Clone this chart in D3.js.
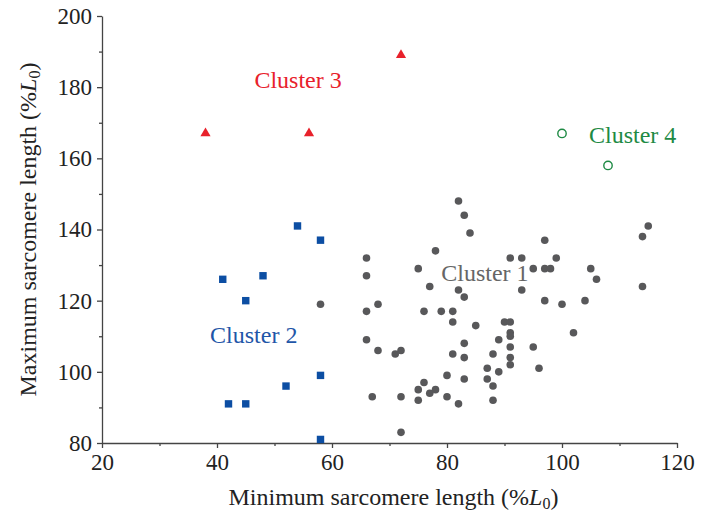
<!DOCTYPE html>
<html>
<head>
<meta charset="utf-8">
<script src="https://cdn.jsdelivr.net/npm/d3@7"></script>
<style>
	body { margin: 0; background: #fff; }
	svg { display: block; font-family: "Liberation Serif", "DejaVu Serif", serif; }
	.axis path, .axis line { stroke: #444; stroke-width: 1.3; }
	.axis text { font-family: "Liberation Serif", serif; font-size: 23px; fill: #222; }
</style>
</head>
<body>
<div id="wrapper"></div>
<script>
// cluster points, [min length, max length] in %L0
const cluster1 = [
	[82,148],[83,144],[84,139],[78,134],[66,132],[75,129],[66,127],[77,124],[82,123],[83,121],
	[58,119],[68,119],[66,117],[76,117],[79,117],[81,117],[81,114],[85,113],[66,109],[83,108],
	[89,109],[68,106],[71,105],[72,106],[81,105],[83,104],[88,105],[87,101],[89,100],[80,99],
	[83,98],[87,98],[76,97],[88,96],[75,95],[78,95],[77,94],[67,93],[72,93],[80,93],
	[75,92],[82,91],[88,92],[72,83],[115,141],[114,138],[97,137],[91,132],[93,132],[99,132],
	[95,129],[97,129],[98,129],[105,129],[106,126],[93,123],[114,124],[97,120],[100,119],[104,120],
	[90,114],[91,114],[91,111],[91,110],[102,111],[91,107],[95,107],[91,104],[91,102],[96,101]
];
const cluster2 = [[54,141],[58,137],[41,126],[48,127],[45,120],[58,99],[52,96],[42,91],[45,91],[58,81]];
const cluster3 = [[72,189],[38,167],[56,167]];
const cluster4 = [[100,167],[108,158]];

const xTicks = [20, 40, 60, 80, 100, 120];
const xMinor = [30, 50, 70, 90, 110];
const yTicks = [80, 100, 120, 140, 160, 180, 200];
const yMinor = [90, 110, 130, 150, 170, 190];

// label name, anchor value (x, y)
const labels = [
	{ text: 'Cluster 1', x: 79, y: 125.5, color: '#666666' },
	{ text: 'Cluster 2', x: 38.8, y: 108.2, color: '#1f56a8' },
	{ text: 'Cluster 3', x: 46.5, y: 179.7, color: '#e8212b' },
	{ text: 'Cluster 4', x: 104.7, y: 164.4, color: '#1e8a44' }
];

(() => {
	const width = 711, height = 516;
	const margin = { left: 102, right: 34, top: 16, bottom: 73 };

	const svg = d3.select('#wrapper').append('svg')
		.attr('width', width)
		.attr('height', height);

	const x = d3.scaleLinear().domain([20, 120]).range([margin.left, width - margin.right]);
	const y = d3.scaleLinear().domain([80, 200]).range([height - margin.bottom, margin.top]);

	// minor ticks first, then major axes on top
	svg.append('g')
		.attr('class', 'axis')
		.attr('transform', `translate(0,${y(80)})`)
		.call(d3.axisBottom(x).tickValues(xMinor).tickSize(3).tickFormat(''))
		.select('.domain').remove();
	svg.append('g')
		.attr('class', 'axis')
		.attr('transform', `translate(${x(20)},0)`)
		.call(d3.axisLeft(y).tickValues(yMinor).tickSize(3).tickFormat(''))
		.select('.domain').remove();

	svg.append('g')
		.attr('class', 'axis')
		.attr('transform', `translate(0,${y(80)})`)
		.call(d3.axisBottom(x).tickValues(xTicks).tickSize(5).tickSizeOuter(0).tickPadding(6));
	svg.append('g')
		.attr('class', 'axis')
		.attr('transform', `translate(${x(20)},0)`)
		.call(d3.axisLeft(y).tickValues(yTicks).tickSize(5).tickSizeOuter(0).tickPadding(5));

	// axis titles
	const xTitle = svg.append('text')
		.attr('x', (x(20) + x(120)) / 2 + 4)
		.attr('y', 505)
		.attr('text-anchor', 'middle')
		.style('font-size', '24px')
		.style('fill', '#222');
	xTitle.append('tspan').text('Minimum sarcomere length (%');
	xTitle.append('tspan').style('font-style', 'italic').text('L');
	xTitle.append('tspan').style('font-size', '16px').attr('dy', 4).text('0');
	xTitle.append('tspan').attr('dy', -4).text(')');

	const yTitle = svg.append('text')
		.attr('transform', `translate(36,${(y(80) + y(200)) / 2}) rotate(-90)`)
		.attr('text-anchor', 'middle')
		.style('font-size', '24px')
		.style('fill', '#222');
	yTitle.append('tspan').text('Maximum sarcomere length (%');
	yTitle.append('tspan').style('font-style', 'italic').text('L');
	yTitle.append('tspan').style('font-size', '16px').attr('dy', 4).text('0');
	yTitle.append('tspan').attr('dy', -4).text(')');

	const plot = svg.append('g');

	plot.selectAll('.c1')
		.data(cluster1)
		.enter()
		.append('circle')
		.attr('class', 'c1')
		.attr('cx', (d) => x(d[0]))
		.attr('cy', (d) => y(d[1]))
		.attr('r', 3.8)
		.style('fill', '#58585a');

	plot.selectAll('.c2')
		.data(cluster2)
		.enter()
		.append('path')
		.attr('class', 'c2')
		.attr('d', d3.symbol(d3.symbolSquare, 55))
		.attr('transform', (d) => `translate(${x(d[0])},${y(d[1])})`)
		.style('fill', '#0c4ea3');

	plot.selectAll('.c3')
		.data(cluster3)
		.enter()
		.append('path')
		.attr('class', 'c3')
		.attr('d', d3.symbol(d3.symbolTriangle, 45))
		.attr('transform', (d) => `translate(${x(d[0])},${y(d[1])})`)
		.style('fill', '#e8212b');

	plot.selectAll('.c4')
		.data(cluster4)
		.enter()
		.append('circle')
		.attr('class', 'c4')
		.attr('cx', (d) => x(d[0]))
		.attr('cy', (d) => y(d[1]))
		.attr('r', 4.2)
		.style('fill', 'none')
		.style('stroke', '#1e8a44')
		.style('stroke-width', 1.4);

	plot.selectAll('.label')
		.data(labels)
		.enter()
		.append('text')
		.attr('class', 'label')
		.attr('x', (d) => x(d.x))
		.attr('y', (d) => y(d.y))
		.style('font-size', '24px')
		.style('fill', (d) => d.color)
		.text((d) => d.text);
})();
</script>
</body>
</html>
